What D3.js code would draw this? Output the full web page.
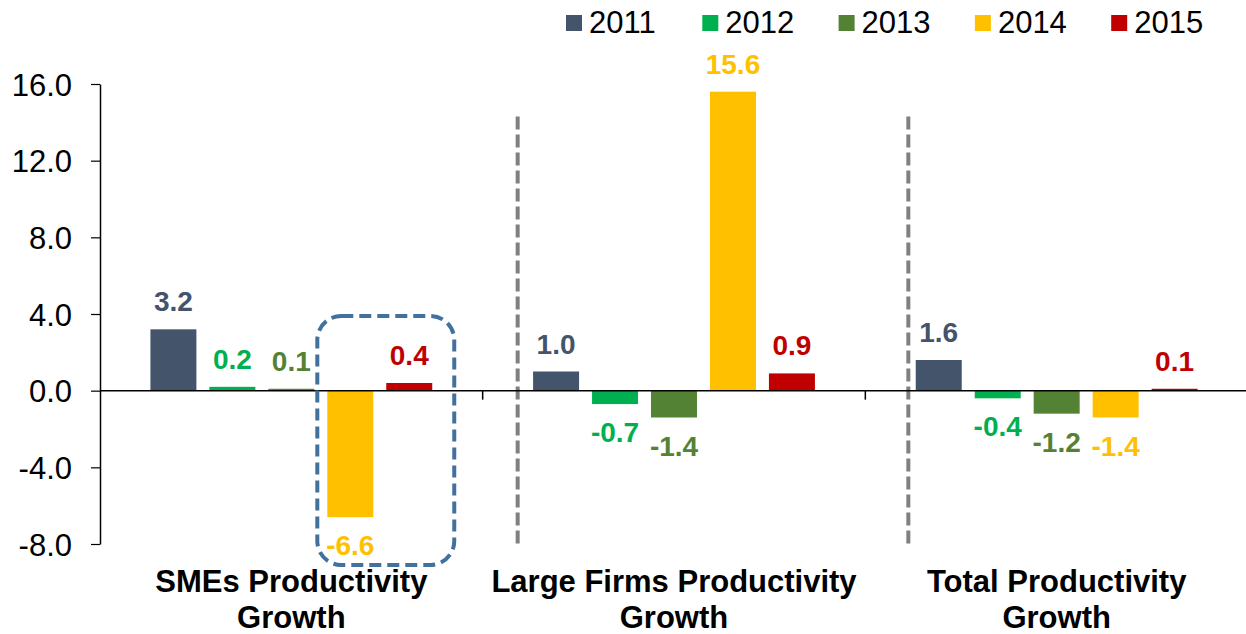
<!DOCTYPE html>
<html>
<head>
<meta charset="utf-8">
<script src="https://cdn.jsdelivr.net/npm/d3@7"></script>
<style>
  html, body { margin: 0; padding: 0; background: #fff; }
  svg { display: block; font-family: "Liberation Sans", Arial, sans-serif; }
</style>
</head>
<body>
<div id="chart"></div>
<script>
const width = 1246;
const height = 634;

const categories = ["SMEs Productivity Growth", "Large Firms Productivity Growth", "Total Productivity Growth"];
const categoryLines = [["SMEs Productivity", "Growth"], ["Large Firms Productivity", "Growth"], ["Total Productivity", "Growth"]];
const years = ["2011", "2012", "2013", "2014", "2015"];
const colors = ["#44546A", "#00B050", "#548235", "#FFC000", "#C00000"];
const values2011 = [3.2, 1.0, 1.6];
const values2012 = [0.2, -0.7, -0.4];
const values2013 = [0.1, -1.4, -1.2];
const values2014 = [-6.6, 15.6, -1.4];
const values2015 = [0.4, 0.9, 0.1];
const yTicks = [-8, -4, 0, 4, 8, 12, 16];

const series = [values2011, values2012, values2013, values2014, values2015];

// plain hyphen for negatives, like the original
const fmt = d3.formatLocale({ decimal: ".", thousands: ",", grouping: [3], currency: ["", ""], minus: "-" }).format(".1f");

const svg = d3.select("#chart")
    .append("svg")
        .attr("width", width)
        .attr("height", height)
        .attr("viewBox", [0, 0, width, height]);

const y = d3.scaleLinear()
    .domain([-8, 16])
    .range([544, 84]);

const x0 = d3.scaleBand()
    .domain(categories)
    .range([100, 1248]);

const x1 = d3.scaleBand()
    .domain(years)
    .range([0, x0.bandwidth()])
    .paddingInner(0.22)
    .paddingOuter(0.855);

const color = d3.scaleOrdinal().domain(years).range(colors);

// flatten into bar records
const bars = [];
categories.forEach((c, ci) => {
    years.forEach((yr, yi) => {
        bars.push({ cat: c, year: yr, value: series[yi][ci] });
    });
});

// y axis
const yAxis = svg.append("g")
    .attr("transform", "translate(100,0)")
    .call(d3.axisLeft(y).tickValues(yTicks).tickFormat(fmt).tickSize(9).tickSizeOuter(0));
yAxis.select(".domain").attr("stroke", "#000").attr("stroke-width", 1.5);
yAxis.selectAll(".tick line").attr("stroke", "#000").attr("stroke-width", 1.2);
yAxis.selectAll(".tick text")
    .attr("x", -28)
    .attr("dy", "0.36em")
    .style("font-size", "31px")
    .style("font-family", "'Liberation Sans', Arial, sans-serif")
    .attr("fill", "#000");

// dashed separators
const separators = [
    { cat: categories[1], dx: 35 },
    { cat: categories[2], dx: 43 }
];
svg.append("g").selectAll("line")
    .data(separators)
    .enter().append("line")
        .attr("x1", d => x0(d.cat) + d.dx)
        .attr("x2", d => x0(d.cat) + d.dx)
        .attr("y1", y(14.3))
        .attr("y2", y(-8.2))
        .attr("stroke", "#808080")
        .attr("stroke-width", 4)
        .attr("stroke-dasharray", "13,5");

// bars
svg.append("g").selectAll("rect")
    .data(bars)
    .enter().append("rect")
        .attr("x", d => x0(d.cat) + x1(d.year))
        .attr("width", x1.bandwidth())
        .attr("y", d => y(Math.max(0, d.value)))
        .attr("height", d => Math.abs(y(d.value) - y(0)))
        .attr("fill", d => color(d.year));

// zero line + category ticks
svg.append("line")
    .attr("x1", 100).attr("x2", width)
    .attr("y1", y(0)).attr("y2", y(0))
    .attr("stroke", "#000").attr("stroke-width", 1.5);
svg.append("g").selectAll("line")
    .data(categories.slice(0, 2))
    .enter().append("line")
        .attr("x1", d => x0(d) + x0.bandwidth())
        .attr("x2", d => x0(d) + x0.bandwidth())
        .attr("y1", y(0))
        .attr("y2", y(0) + 9)
        .attr("stroke", "#000").attr("stroke-width", 1.5);

// value labels
svg.append("g").selectAll("text")
    .data(bars)
    .enter().append("text")
        .attr("x", d => x0(d.cat) + x1(d.year) + x1.bandwidth() / 2)
        .attr("y", d => d.value >= 0 ? y(d.value) - 18 : y(d.value) + 38)
        .attr("text-anchor", "middle")
        .style("font-size", "28px")
        .style("font-weight", "bold")
        .attr("fill", d => color(d.year))
        .text(d => fmt(d.value));

// highlight box around SMEs 2014-2015
const boxLeft = x0(categories[0]) + x1("2014") - 10;
const boxRight = x0(categories[0]) + x1("2015") + x1.bandwidth() + 22;
svg.append("rect")
    .attr("x", boxLeft)
    .attr("y", y(3.9))
    .attr("width", boxRight - boxLeft)
    .attr("height", y(-9.1) - y(3.9))
    .attr("rx", 24).attr("ry", 24)
    .attr("fill", "none")
    .attr("stroke", "#41719C")
    .attr("stroke-width", 4)
    .attr("stroke-dasharray", "12,6");

// category labels
const catLabel = svg.append("g").selectAll("text")
    .data(categories)
    .enter().append("text")
        .attr("text-anchor", "middle")
        .style("font-size", "31px")
        .style("font-weight", "bold")
        .attr("fill", "#000");
catLabel.selectAll("tspan")
    .data((d, i) => categoryLines[i].map(t => ({ t, cat: d })))
    .enter().append("tspan")
        .attr("x", d => x0(d.cat) + x0.bandwidth() / 2)
        .attr("y", (d, i) => 592 + i * 36)
        .text(d => d.t);

// legend
const legend = svg.append("g").selectAll("g")
    .data(years)
    .enter().append("g")
        .attr("transform", (d, i) => "translate(" + (566 + i * 136.3) + ",15)");
legend.append("rect")
    .attr("width", 16).attr("height", 16)
    .attr("fill", d => color(d));
legend.append("text")
    .attr("x", 23)
    .attr("y", 18)
    .style("font-size", "31px")
    .attr("fill", "#000")
    .text(d => d);
</script>
</body>
</html>
